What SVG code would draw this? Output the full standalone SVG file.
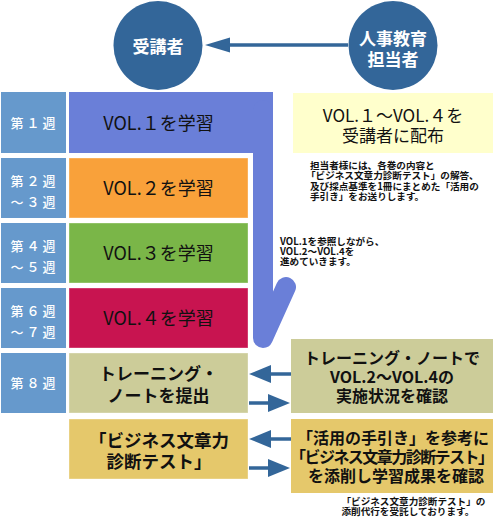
<svg xmlns="http://www.w3.org/2000/svg" width="499" height="519" viewBox="0 0 499 519">
<defs>
<style>
text{font-family:"Noto Sans CJK JP","Noto Sans",sans-serif;}
.wk{fill:#6699CC;}
.wt{fill:#fff;font-size:13px;letter-spacing:3px;font-weight:500;}
.mt{fill:#111;font-size:18px;text-anchor:middle;}
.bt{fill:#111;font-size:17px;text-anchor:middle;font-weight:700;}
.rt{fill:#111;font-size:16px;text-anchor:middle;font-weight:700;}
.ct{fill:#fff;font-size:17px;text-anchor:middle;font-weight:700;}
.nt{fill:#111;font-size:9.6px;font-weight:700;}
.circ{fill:#336699;}
.ln{stroke:#336699;stroke-width:3.5;fill:none;}
.hd{fill:#336699;}
.bx{stroke:rgba(255,255,255,0.35);stroke-width:1;}
</style>
</defs>

<g id="connectors">
  <line class="ln" x1="228" y1="45" x2="348" y2="45"/>
  <polygon class="hd" points="205,45 230,37.5 230,52.5"/>
  <line class="ln" x1="268" y1="374" x2="291" y2="374"/>
  <polygon class="hd" points="249,374 271,365 271,383"/>
  <line class="ln" x1="249" y1="403" x2="270" y2="403"/>
  <polygon class="hd" points="290,403 268,394 268,412"/>
  <line class="ln" x1="268" y1="439" x2="291" y2="439"/>
  <polygon class="hd" points="249,439 271,430 271,448"/>
  <line class="ln" x1="249" y1="468" x2="270" y2="468"/>
  <polygon class="hd" points="290,468 268,459 268,477"/>
</g>

<g id="jukousha">
  <circle class="circ" cx="158" cy="45.5" r="44.5"/>
  <text class="ct" x="158" y="53">受講者</text>
</g>

<g id="tantousha">
  <circle class="circ" cx="393" cy="45.5" r="44.5"/>
  <text class="ct"><tspan x="393" y="44.5">人事教育</tspan><tspan x="393" y="66">担当者</tspan></text>
</g>

<g id="week1">
  <rect class="wk" x="1" y="92" width="65" height="61"/>
  <text class="wt" x="10.5" y="128">第１週</text>
</g>
<g id="week2-3">
  <rect class="wk" x="1" y="158" width="65" height="60"/>
  <text class="wt"><tspan x="10.5" y="185.5">第２週</tspan><tspan x="10.5" y="206.5">～３週</tspan></text>
</g>
<g id="week4-5">
  <rect class="wk" x="1" y="223" width="65" height="60"/>
  <text class="wt"><tspan x="10.5" y="250.5">第４週</tspan><tspan x="10.5" y="271.5">～５週</tspan></text>
</g>
<g id="week6-7">
  <rect class="wk" x="1" y="288" width="65" height="60"/>
  <text class="wt"><tspan x="10.5" y="315.5">第６週</tspan><tspan x="10.5" y="336.5">～７週</tspan></text>
</g>
<g id="week8">
  <rect class="wk" x="1" y="353" width="65" height="60"/>
  <text class="wt" x="10.5" y="388">第８週</text>
</g>

<g id="vol1">
  <rect x="69" y="92" width="204" height="61" fill="#6A7FD8"/>
  <polyline points="263,110 263,338 286,287" fill="none" stroke="#6A7FD8" stroke-width="20" stroke-linecap="round" stroke-linejoin="round"/>
  <text class="mt" x="158.5" y="129.5">VOL.１を学習</text>
</g>
<g id="vol2">
  <rect class="bx" x="69" y="158" width="179" height="60" fill="#F9A13A"/>
  <text class="mt" x="158.5" y="195">VOL.２を学習</text>
</g>
<g id="vol3">
  <rect class="bx" x="69" y="223" width="179" height="60" fill="#7AB648"/>
  <text class="mt" x="158.5" y="260">VOL.３を学習</text>
</g>
<g id="vol4">
  <rect class="bx" x="69" y="288" width="179" height="60" fill="#C81450"/>
  <text class="mt" x="158.5" y="325">VOL.４を学習</text>
</g>
<g id="training">
  <rect class="bx" x="69" y="353" width="179" height="60" fill="#CCCC99"/>
  <text class="bt"><tspan x="158.5" y="379.5">トレーニング・</tspan><tspan x="158.5" y="401.5">ノートを提出</tspan></text>
</g>
<g id="test">
  <rect class="bx" x="69" y="419" width="179" height="60" fill="#E5C86B"/>
  <text class="bt" style="font-size:17.5px"><tspan x="159" y="446.5">「ビジネス文章力</tspan><tspan x="159" y="468">診断テスト」</tspan></text>
</g>

<g id="distribute">
  <rect x="293" y="93" width="200" height="60" fill="#FFFFCC"/>
  <text class="mt" style="font-size:17px"><tspan x="393" y="121.5">VOL.１～VOL.４を</tspan><tspan x="393" y="141.5">受講者に配布</tspan></text>
</g>

<g id="note1">
  <text class="nt"><tspan x="310" y="168.5">担当者様には、各巻の内容と</tspan><tspan x="306" y="179">「ビジネス文章力診断テスト」の解答、</tspan><tspan x="310" y="189.5">及び採点基準を1冊にまとめた「活用の</tspan><tspan x="310" y="200">手引き」をお送りします。</tspan></text>
</g>

<g id="note2">
  <text class="nt"><tspan x="280" y="244.5">VOL.1を参照しながら、</tspan><tspan x="280" y="254.5">VOL.2～VOL.4を</tspan><tspan x="280" y="264.5">進めていきます。</tspan></text>
</g>

<g id="check-training">
  <rect x="291" y="339" width="202" height="74" fill="#CCCC99"/>
  <text class="rt"><tspan x="392" y="364">トレーニング・ノートで</tspan><tspan x="392" y="383">VOL.2～VOL.4の</tspan><tspan x="392" y="402">実施状況を確認</tspan></text>
</g>

<g id="check-test">
  <rect x="291" y="419" width="202" height="74" fill="#E5C86B"/>
  <text class="rt"><tspan x="393" y="444">「活用の手引き」を参考に</tspan><tspan x="392" y="462.7" textLength="204" lengthAdjust="spacing">「ビジネス文章力診断テスト」</tspan><tspan x="396" y="482">を添削し学習成果を確認</tspan></text>
</g>

<g id="note3">
  <text class="nt"><tspan x="341.5" y="504.5">「ビジネス文章力診断テスト」の</tspan><tspan x="341.5" y="514.5">添削代行を受託しております。</tspan></text>
</g>
</svg>
